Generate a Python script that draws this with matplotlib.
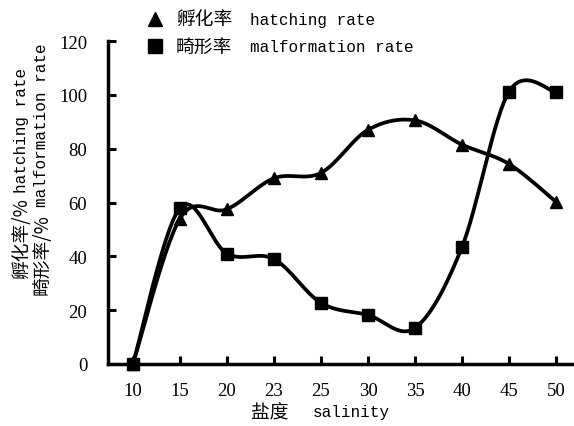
import numpy as np
import matplotlib.pyplot as plt
from matplotlib.lines import Line2D

# 数据
salinity = ['10', '15', '20', '23', '25', '30', '35', '40', '45', '50']
hatching = [0, 54, 57.5, 69, 71, 87, 90.5, 81.5, 74.3, 60.2]
malformation = [0, 58, 41, 39, 22.7, 18.2, 13.4, 43.5, 101.2, 101]

W, H = 574, 427
num = 'Liberation Serif'
mono = 'Liberation Mono'
cjk = 'Noto Sans CJK SC'


# 平滑曲线 (Catmull-Rom, 类似 Excel 的平滑线)
def smooth(y, n=30):
    y = np.asarray(y, dtype=float)
    x = np.arange(len(y), dtype=float)
    px = np.concatenate([[x[0]], x, [x[-1]]])
    py = np.concatenate([[y[0]], y, [y[-1]]])
    xs, ys = [], []
    t = np.linspace(0, 1, n)
    for i in range(1, len(px) - 2):
        for p, out in ((px, xs), (py, ys)):
            p0, p1, p2, p3 = p[i - 1], p[i], p[i + 1], p[i + 2]
            c1 = p1 + (p2 - p0) / 6
            c2 = p2 - (p3 - p1) / 6
            out.extend((1 - t)**3 * p1 + 3 * (1 - t)**2 * t * c1
                       + 3 * (1 - t) * t**2 * c2 + t**3 * p2)
    return np.array(xs), np.array(ys)


# 中英文分开放置 (像素坐标)
def label(cn, en, x, y, x2, rot=0):
    if rot:
        fig.text(x / W, 1 - y / H, cn, family=cjk, fontsize=13.5, rotation=90,
                 ha='center', va='bottom')
        fig.text(x / W, 1 - x2 / H, en, family=mono, fontsize=11.5, rotation=90,
                 ha='center', va='bottom')
    else:
        fig.text(x / W, 1 - y / H, cn, family=cjk, fontsize=13.5, va='center')
        fig.text(x2 / W, 1 - y / H, en, family=mono, fontsize=11.5, va='center')


fig = plt.figure(figsize=(W / 100, H / 100), dpi=100)
ax = fig.add_axes([108 / W, 62 / H, 465 / W, 323 / H])

idx = np.arange(len(salinity))
for vals, m in ((hatching, '^'), (malformation, 's')):
    sx, sy = smooth(vals)
    ax.plot(sx, sy, color='black', lw=2.7, solid_capstyle='round', clip_on=False)
    ax.plot(idx, vals, m, color='black', ms=8.5, clip_on=False)

ax.set_xlim(-0.53, 9.36)
ax.set_ylim(0, 120)
ax.set_xticks(idx)
ax.set_xticklabels(salinity)
ax.set_yticks(range(0, 121, 20))
ax.tick_params(direction='in', length=6, width=2.2, labelsize=13.5,
               labelfontfamily=num)
ax.tick_params(axis='x', pad=13)
ax.tick_params(axis='y', pad=15)
for s in ('top', 'right'):
    ax.spines[s].set_visible(False)
for s in ('left', 'bottom'):
    ax.spines[s].set_linewidth(2.5)

label('盐度', 'salinity', 251, 413, 313)
label('孵化率/%', 'hatching rate', 22, 279, 193, rot=1)
label('畸形率/%', 'malformation rate', 42, 295, 207, rot=1)

# 图例
for m, yy, cn, en in (('^', 20, '孵化率', 'hatching rate'),
                      ('s', 47, '畸形率', 'malformation rate')):
    fig.add_artist(Line2D([155 / W], [1 - yy / H], ls='none', marker=m,
                          color='black', ms=10, transform=fig.transFigure))
    label(cn, en, 176, yy, 250)

fig.savefig('out.png', dpi=100)
